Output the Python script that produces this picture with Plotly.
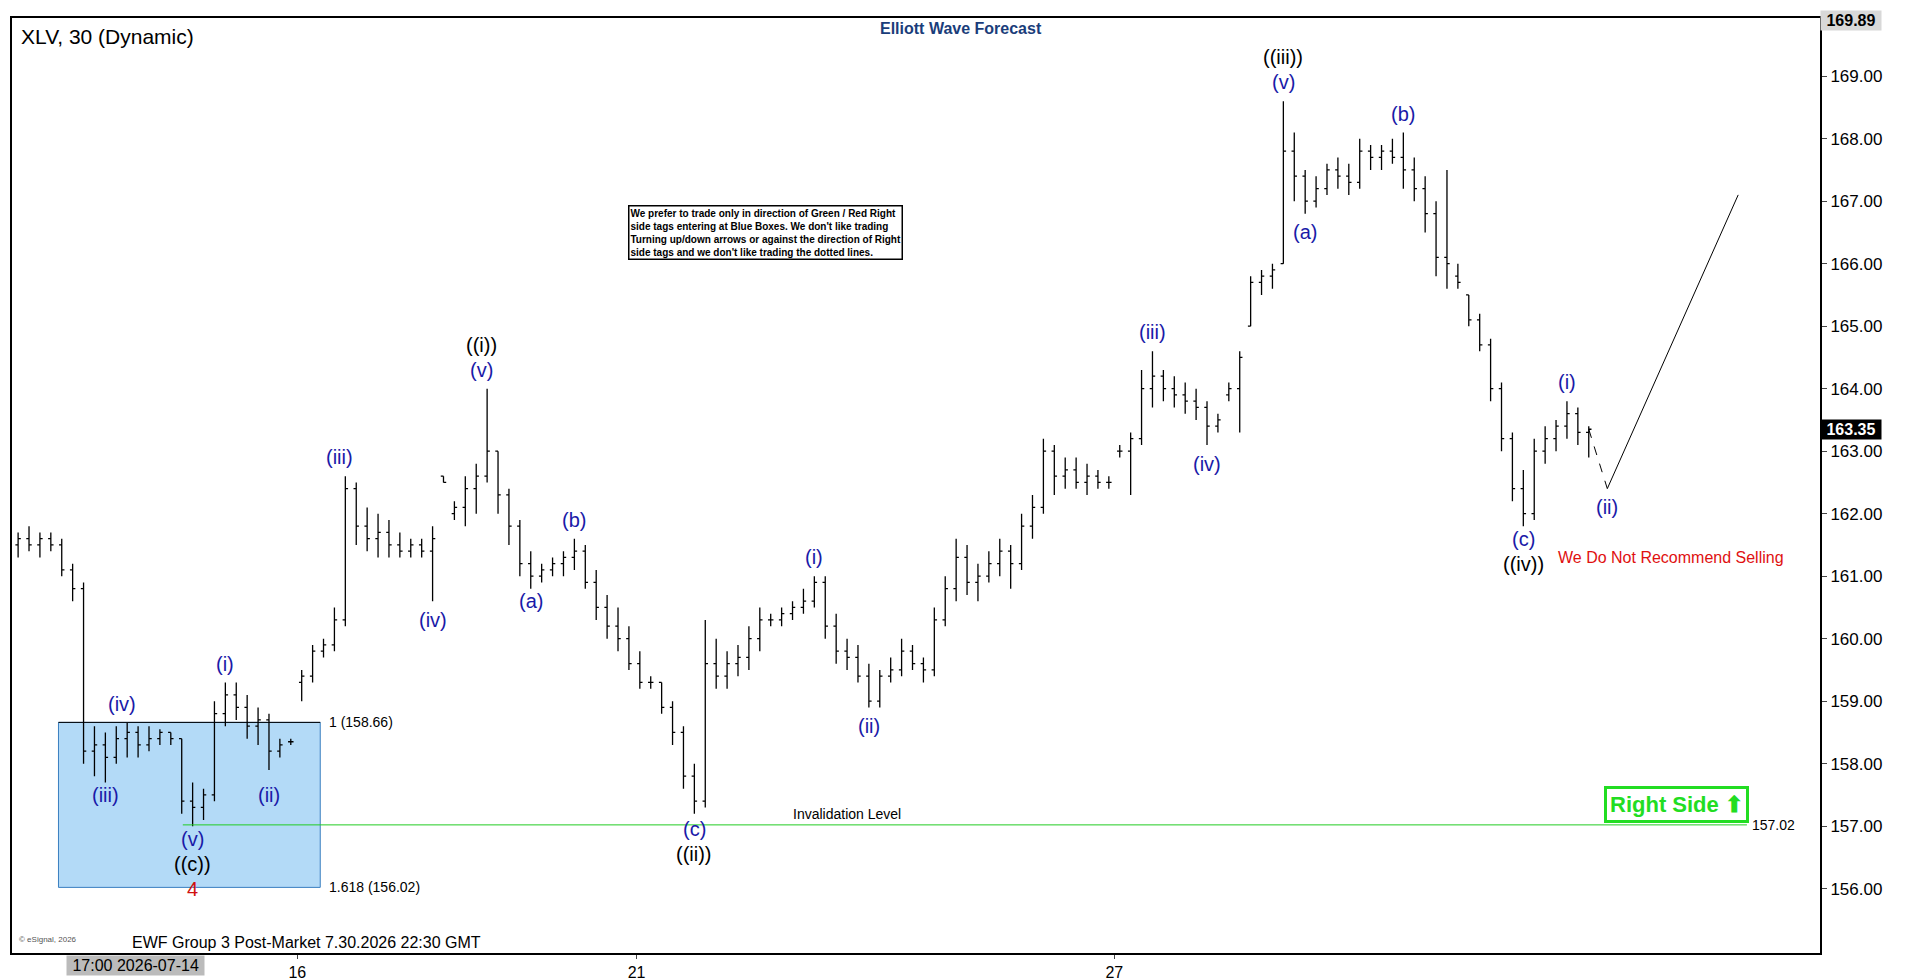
import plotly.graph_objects as go

# OHLC bars, 30-minute (open, high, low, close)
bars = [
    (161.5, 161.7, 161.3, 161.6), (161.6, 161.8, 161.4, 161.5), (161.5, 161.7, 161.3, 161.6),
    (161.6, 161.7, 161.4, 161.5), (161.5, 161.6, 161.0, 161.1), (161.1, 161.2, 160.6, 160.8),
    (160.8, 160.9, 158.0, 158.2), (158.2, 158.6, 157.8, 158.3), (158.3, 158.5, 157.7, 158.1),
    (158.1, 158.6, 158.0, 158.4), (158.4, 158.65, 158.1, 158.5), (158.5, 158.6, 158.1, 158.3),
    (158.3, 158.6, 158.2, 158.4), (158.4, 158.55, 158.3, 158.5), (158.5, 158.5, 158.3, 158.4),
    (158.4, 158.4, 157.2, 157.4), (157.4, 157.7, 157.0, 157.3), (157.3, 157.6, 157.1, 157.5),
    (157.5, 159.0, 157.4, 158.8), (158.8, 159.3, 158.6, 159.1), (159.1, 159.3, 158.7, 158.9),
    (158.9, 159.1, 158.4, 158.6), (158.6, 158.9, 158.3, 158.7), (158.7, 158.8, 157.9, 158.2),
    (158.2, 158.4, 158.1, 158.3), (158.35, 158.4, 158.3, 158.35), (159.3, 159.5, 159.0, 159.4),
    (159.4, 159.9, 159.3, 159.8), (159.8, 160.0, 159.7, 159.9), (159.9, 160.5, 159.8, 160.3),
    (160.3, 162.6, 160.2, 162.4), (162.4, 162.5, 161.5, 161.8), (161.8, 162.1, 161.4, 161.6),
    (161.6, 162.0, 161.3, 161.7), (161.7, 161.9, 161.3, 161.5), (161.5, 161.7, 161.3, 161.4),
    (161.4, 161.6, 161.3, 161.5), (161.5, 161.6, 161.3, 161.4), (161.4, 161.8, 160.6, 161.6),
    (162.6, 162.6, 162.5, 162.5), (162.0, 162.2, 161.9, 162.1), (162.1, 162.6, 161.8, 162.4),
    (162.4, 162.8, 162.0, 162.6), (162.6, 164.0, 162.5, 163.0), (163.0, 163.0, 162.0, 162.3),
    (162.3, 162.4, 161.5, 161.8), (161.8, 161.9, 161.0, 161.2), (161.2, 161.4, 160.8, 161.0),
    (161.0, 161.2, 160.9, 161.1), (161.1, 161.3, 161.0, 161.2), (161.2, 161.4, 161.0, 161.3),
    (161.3, 161.6, 161.1, 161.4), (161.4, 161.5, 160.8, 160.9), (160.9, 161.1, 160.3, 160.5),
    (160.5, 160.7, 160.0, 160.2), (160.2, 160.5, 159.8, 160.0), (160.0, 160.2, 159.5, 159.6),
    (159.6, 159.8, 159.2, 159.3), (159.3, 159.4, 159.2, 159.3), (159.3, 159.3, 158.8, 158.9),
    (158.9, 159.0, 158.3, 158.5), (158.5, 158.6, 157.6, 157.8), (157.8, 158.0, 157.2, 157.4),
    (157.4, 160.3, 157.3, 159.6), (159.6, 160.0, 159.2, 159.4), (159.4, 159.8, 159.2, 159.6),
    (159.6, 159.9, 159.4, 159.7), (159.7, 160.2, 159.5, 160.0), (160.0, 160.5, 159.8, 160.3),
    (160.3, 160.4, 160.2, 160.3), (160.3, 160.5, 160.2, 160.4), (160.4, 160.6, 160.3, 160.5),
    (160.5, 160.8, 160.4, 160.6), (160.6, 161.0, 160.5, 160.9), (160.9, 161.0, 160.0, 160.2),
    (160.2, 160.4, 159.6, 159.8), (159.8, 160.0, 159.5, 159.7), (159.7, 159.9, 159.3, 159.4),
    (159.4, 159.6, 158.9, 159.0), (159.0, 159.5, 158.9, 159.4), (159.4, 159.7, 159.3, 159.5),
    (159.5, 160.0, 159.4, 159.8), (159.8, 159.9, 159.5, 159.6), (159.6, 159.7, 159.3, 159.5),
    (159.5, 160.5, 159.4, 160.3), (160.3, 161.0, 160.2, 160.8), (160.8, 161.6, 160.6, 161.3),
    (161.3, 161.5, 160.7, 160.9), (160.9, 161.2, 160.6, 161.0), (161.0, 161.4, 160.9, 161.2),
    (161.2, 161.6, 161.0, 161.4), (161.4, 161.5, 160.8, 161.2), (161.2, 162.0, 161.1, 161.8),
    (161.8, 162.3, 161.6, 162.1), (162.1, 163.2, 162.0, 163.0), (163.0, 163.1, 162.3, 162.6),
    (162.6, 162.9, 162.4, 162.7), (162.7, 162.9, 162.4, 162.5), (162.5, 162.8, 162.3, 162.6),
    (162.6, 162.7, 162.4, 162.5), (162.5, 162.6, 162.4, 162.5), (163.0, 163.1, 162.9, 163.0),
    (163.0, 163.3, 162.3, 163.2), (163.2, 164.3, 163.1, 164.0), (164.0, 164.6, 163.7, 164.2),
    (164.2, 164.3, 163.8, 164.0), (164.0, 164.2, 163.7, 163.9), (163.9, 164.1, 163.6, 163.8),
    (163.8, 164.0, 163.5, 163.7), (163.7, 163.8, 163.1, 163.4), (163.4, 163.6, 163.3, 163.5),
    (163.9, 164.1, 163.8, 164.0), (164.0, 164.6, 163.3, 164.5), (165.0, 165.8, 165.0, 165.7),
    (165.7, 165.9, 165.5, 165.8), (165.8, 166.0, 165.6, 165.9), (166.0, 168.6, 166.0, 167.8),
    (167.8, 168.1, 167.0, 167.4), (167.4, 167.5, 166.8, 167.0), (167.0, 167.4, 166.9, 167.2),
    (167.2, 167.6, 167.1, 167.5), (167.5, 167.7, 167.2, 167.4), (167.4, 167.6, 167.1, 167.3),
    (167.3, 168.0, 167.2, 167.8), (167.8, 167.9, 167.5, 167.7), (167.7, 167.9, 167.5, 167.8),
    (167.8, 168.0, 167.6, 167.7), (167.7, 168.1, 167.2, 167.5), (167.5, 167.7, 167.0, 167.2),
    (167.2, 167.4, 166.5, 166.8), (166.8, 167.0, 165.8, 166.1), (166.1, 167.5, 165.6, 166.0),
    (165.8, 166.0, 165.6, 165.7), (165.5, 165.5, 165.0, 165.1), (165.1, 165.2, 164.6, 164.7),
    (164.7, 164.8, 163.8, 164.0), (164.0, 164.1, 163.0, 163.2), (163.2, 163.3, 162.2, 162.4),
    (162.4, 162.7, 161.8, 162.0), (162.0, 163.2, 161.9, 163.0), (163.0, 163.4, 162.8, 163.2),
    (163.2, 163.5, 163.0, 163.4), (163.4, 163.8, 163.2, 163.6), (163.6, 163.7, 163.1, 163.3),
    (163.3, 163.4, 162.9, 163.35),
]
opens = [b[0] for b in bars]
highs = [b[1] for b in bars]
lows = [b[2] for b in bars]
closes = [b[3] for b in bars]
idx = list(range(len(bars)))

date_ticks = [25.6, 56.7, 100.5]
date_labels = ["16", "21", "27"]
price_ticks = [156, 157, 158, 159, 160, 161, 162, 163, 164, 165, 166, 167, 168, 169]

# wave labels: (x index, price, text, colour)
blue = "#1a1aa8"
labels = [
    (8, 157.5, "(iii)", blue), (9.5, 158.95, "(iv)", blue), (16, 156.8, "(v)", blue),
    (16, 156.4, "((c))", "black"), (16, 156.0, "4", "#d01010"),
    (19, 159.6, "(i)", blue), (23, 157.5, "(ii)", blue),
    (29.5, 162.9, "(iii)", blue), (38, 160.3, "(iv)", blue),
    (42.5, 164.3, "(v)", blue), (42.5, 164.7, "((i))", "black"),
    (47, 160.6, "(a)", blue), (51, 161.9, "(b)", blue),
    (62, 156.95, "(c)", blue), (62, 156.55, "((ii))", "black"),
    (73, 161.3, "(i)", blue), (78, 158.6, "(ii)", blue),
    (104, 164.9, "(iii)", blue), (109, 162.8, "(iv)", blue),
    (116, 168.9, "(v)", blue), (116, 169.3, "((iii))", "black"),
    (118, 166.5, "(a)", blue), (127, 168.4, "(b)", blue),
    (138, 161.6, "(c)", blue), (138, 161.2, "((iv))", "black"),
    (142, 164.1, "(i)", blue), (145.7, 162.1, "(ii)", blue),
]

# projection path
proj_dash_x = [144, 145.7]
proj_dash_y = [163.35, 162.4]
proj_x = [145.7, 157.7]
proj_y = [162.4, 167.1]

fig = go.Figure()

# blue box
fig.add_shape(type="rect", x0=3.7, x1=27.7, y0=156.02, y1=158.66,
              fillcolor="#b3daf7", line=dict(color="#3a7fc0", width=1), layer="below")
fig.add_shape(type="line", x0=3.7, x1=27.7, y0=158.66, y1=158.66, line=dict(color="black", width=1))
fig.add_shape(type="line", x0=15.1, x1=158.5, y0=157.02, y1=157.02, line=dict(color="#22cc22", width=1))

fig.add_trace(go.Ohlc(
    x=idx, open=opens, high=highs, low=lows, close=closes,
    increasing_line_color="black", decreasing_line_color="black",
    line_width=1.3, tickwidth=0.25, showlegend=False,
))

fig.add_trace(go.Scatter(x=proj_dash_x, y=proj_dash_y, mode="lines",
                         line=dict(color="black", width=1, dash="dash"), showlegend=False))
fig.add_trace(go.Scatter(x=proj_x, y=proj_y, mode="lines",
                         line=dict(color="black", width=1), showlegend=False))

for x, y, t, c in labels:
    fig.add_annotation(x=x, y=y, text=t, showarrow=False,
                       font=dict(family="Liberation Sans, Arial", size=20, color=c))

small = dict(family="Liberation Sans, Arial", size=14, color="black")
fig.add_annotation(x=28.3, y=158.66, text="1 (158.66)", showarrow=False, xanchor="left", font=small)
fig.add_annotation(x=28.3, y=156.02, text="1.618 (156.02)", showarrow=False, xanchor="left", font=small)
fig.add_annotation(x=76, y=157.2, text="Invalidation Level", showarrow=False, font=small)
fig.add_annotation(x=158.8, y=157.02, text="157.02", showarrow=False, xanchor="left", font=small)
fig.add_annotation(x=151.5, y=161.3, text="We Do Not Recommend Selling", showarrow=False,
                   font=dict(family="Liberation Sans Narrow, Arial", size=16, color="#e01010"))
fig.add_annotation(x=152, y=157.35, text="<b>Right Side ⬆</b>", showarrow=False,
                   font=dict(family="Liberation Sans, Arial", size=22, color="#22dd22"),
                   bordercolor="#22dd22", borderwidth=3, bgcolor="white", borderpad=3)
fig.add_annotation(x=68.5, y=166.5,
                   text="<b>We prefer to trade only in direction of Green / Red Right<br>"
                        "side tags entering at Blue Boxes. We don't like trading<br>"
                        "Turning up/down arrows or against the direction of Right<br>"
                        "side tags and we don't like trading the dotted lines.</b>",
                   showarrow=False, align="left", bordercolor="black", borderwidth=1.5,
                   bgcolor="white", font=dict(family="Liberation Sans, Arial", size=10, color="black"))

# paper-positioned texts
fig.add_annotation(xref="paper", yref="paper", x=0.004, y=0.995, xanchor="left", yanchor="top",
                   text="XLV, 30 (Dynamic)", showarrow=False,
                   font=dict(family="Liberation Sans, Arial", size=21, color="black"))
fig.add_annotation(xref="paper", yref="paper", x=0.525, y=1.0, yanchor="top",
                   text="<b>Elliott Wave Forecast</b>", showarrow=False,
                   font=dict(family="Liberation Sans, Arial", size=16, color="#1a3d7a"))
fig.add_annotation(xref="paper", yref="paper", x=0.065, y=0.0, xanchor="left", yanchor="bottom",
                   text="EWF Group 3 Post-Market 7.30.2026 22:30 GMT", showarrow=False,
                   font=dict(family="Liberation Sans, Arial", size=16, color="black"))
fig.add_annotation(xref="paper", yref="paper", x=0.003, y=0.008, xanchor="left", yanchor="bottom",
                   text="© eSignal, 2026", showarrow=False,
                   font=dict(family="Liberation Sans, Arial", size=8, color="#555555"))
fig.add_annotation(xref="paper", yref="paper", x=0.03, y=-0.002, xanchor="left", yanchor="top",
                   text=" 17:00 2026-07-14 ", showarrow=False, bgcolor="#bbbbbb",
                   font=dict(family="Liberation Sans, Arial", size=16, color="black"))

# price tags on the right axis
fig.add_annotation(xref="paper", x=1.0, y=163.35, xanchor="left", text="<b> 163.35 </b>",
                   showarrow=False, bgcolor="black", font=dict(family="Liberation Sans, Arial", size=16, color="white"))
fig.add_annotation(xref="paper", x=1.0, y=169.89, xanchor="left", text="<b> 169.89 </b>",
                   showarrow=False, bgcolor="#d8d8d8", font=dict(family="Liberation Sans, Arial", size=16, color="black"))

fig.update_layout(
    width=1912, height=979,
    margin=dict(l=2, r=100, t=10, b=34),
    paper_bgcolor="white", plot_bgcolor="white",
    xaxis=dict(range=[-0.56, 165.2], tickmode="array", tickvals=date_ticks, ticktext=date_labels,
               showgrid=False, zeroline=False, rangeslider=dict(visible=False),
               showline=True, linecolor="black", linewidth=2, mirror=True, ticks="outside", ticklen=4,
               tickfont=dict(family="Liberation Sans, Arial", size=16, color="black")),
    yaxis=dict(range=[154.97, 169.93], side="right", tickmode="array", tickvals=price_ticks,
               ticktext=[f"{p:.2f}" for p in price_ticks], showgrid=False, zeroline=False,
               showline=True, linecolor="black", linewidth=2, mirror=True, ticks="outside",
               tickfont=dict(family="Liberation Sans, Arial", size=17, color="black")),
    showlegend=False,
)

fig.write_html("out.html")
